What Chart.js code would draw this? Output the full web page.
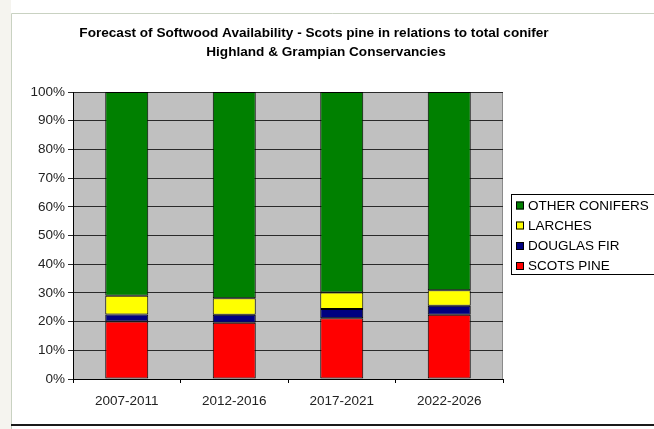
<!DOCTYPE html>
<html>
<head>
<meta charset="utf-8">
<script src="https://cdn.jsdelivr.net/npm/chart.js@4.4.1/dist/chart.umd.min.js"></script>
<style>
  html, body { margin: 0; padding: 0; background: #ffffff; }
  #wrap { position: relative; width: 654px; height: 429px; }
  canvas { display: block; }
</style>
</head>
<body>
<div id="wrap"><canvas id="c" width="654" height="429"></canvas></div>
<script>
const titleLines = [
  "Forecast of Softwood Availability - Scots pine in relations to total conifer",
  "Highland & Grampian Conservancies"
];
const categories = ["2007-2011", "2012-2016", "2017-2021", "2022-2026"];
const scotsPine     = [20.0, 19.6, 21.2, 22.4];
const douglasFir    = [2.5, 2.8, 3.2, 3.1];
const larches       = [6.5, 5.7, 5.7, 5.4];
const otherConifers = [71.0, 71.9, 69.9, 69.1];
const yTickValues = [0, 10, 20, 30, 40, 50, 60, 70, 80, 90, 100];

const FONT = '"Liberation Sans", Arial, sans-serif';

const framePlugin = {
  id: 'frame',
  beforeDraw(chart) {
    const ctx = chart.ctx;
    const ca = chart.chartArea;
    ctx.save();
    ctx.fillStyle = '#f5f4ef';
    ctx.fillRect(0, 0, 11, 429);
    ctx.fillStyle = '#ffffff';
    ctx.fillRect(11, 13, 643, 411);
    ctx.strokeStyle = '#c9d2c2';
    ctx.lineWidth = 1;
    ctx.beginPath();
    ctx.moveTo(11.5, 429);
    ctx.lineTo(11.5, 13.5);
    ctx.lineTo(654, 13.5);
    ctx.stroke();
    ctx.strokeStyle = '#1a1a1a';
    ctx.lineWidth = 2;
    ctx.beginPath();
    ctx.moveTo(11, 425);
    ctx.lineTo(654, 425);
    ctx.stroke();
    ctx.fillStyle = '#c0c0c0';
    ctx.fillRect(ca.left, ca.top, ca.right - ca.left, ca.bottom - ca.top);
    ctx.strokeStyle = '#8a8a8a';
    ctx.lineWidth = 1;
    ctx.strokeRect(ca.left + 0.5, ca.top + 0.5, ca.right - ca.left - 1, ca.bottom - ca.top);
    ctx.fillStyle = '#000000';
    ctx.textAlign = 'center';
    ctx.textBaseline = 'middle';
    ctx.font = 'bold 13.6px ' + FONT;
    ctx.fillText(titleLines[0], 314, 33);
    ctx.fillText(titleLines[1], 326, 52);
    ctx.restore();
  },
  afterDraw(chart) {
    const ctx = chart.ctx;
    ctx.save();
    const lx = 511, ly = 194, lw = 170, lh = 80;
    ctx.fillStyle = '#ffffff';
    ctx.fillRect(lx, ly, lw, lh);
    ctx.strokeStyle = '#000000';
    ctx.lineWidth = 1;
    ctx.strokeRect(lx + 0.5, ly + 0.5, lw, lh);
    const ds = chart.data.datasets.slice().reverse();
    const ys = [205.5, 225.5, 246, 266];
    ctx.font = '13.5px ' + FONT;
    ctx.textAlign = 'left';
    ctx.textBaseline = 'middle';
    ds.forEach((d, i) => {
      const y = ys[i];
      ctx.fillStyle = d.backgroundColor;
      ctx.fillRect(516, y - 4, 8, 8);
      ctx.strokeStyle = '#000000';
      ctx.strokeRect(516.5, y - 3.5, 7, 7);
      ctx.fillStyle = '#000000';
      ctx.fillText(d.label, 528, y + 0.5);
    });
    ctx.restore();
  }
};

const mk = (label, data, color) => ({
  label, data,
  backgroundColor: color,
  borderColor: '#000000',
  borderWidth: 1,
  borderSkipped: false,
  barPercentage: 0.4,
  categoryPercentage: 1.0
});

new Chart(document.getElementById('c'), {
  type: 'bar',
  data: {
    labels: categories,
    datasets: [
      mk('SCOTS PINE', scotsPine, '#ff0000'),
      mk('DOUGLAS FIR', douglasFir, '#000080'),
      mk('LARCHES', larches, '#ffff00'),
      mk('OTHER CONIFERS', otherConifers, '#008000')
    ]
  },
  options: {
    responsive: false,
    animation: false,
    devicePixelRatio: 1,
    layout: { padding: { top: 92, right: 151, left: 0, bottom: 0 } },
    plugins: { legend: { display: false }, title: { display: false }, tooltip: { enabled: false } },
    scales: {
      x: {
        stacked: true,
        offset: true,
        grid: { display: true, offset: true, drawOnChartArea: false, drawTicks: true, tickLength: 4, color: '#000000' },
        border: { display: true, color: '#000000', width: 1 },
        ticks: { color: '#222222', font: { family: FONT, size: 13.5 }, padding: 10 },
        afterFit(scale) { scale.height = 50; }
      },
      y: {
        stacked: true,
        min: 0, max: 100,
        afterBuildTicks(scale) { scale.ticks = yTickValues.map(v => ({ value: v })); },
        grid: { color: '#2a2a2a', lineWidth: 1, drawTicks: true, tickLength: 5 },
        border: { display: true, color: '#000000', width: 1 },
        ticks: { color: '#222222', font: { family: FONT, size: 13.5 }, padding: 3, callback: v => v + '%' },
        afterFit(scale) { scale.width = 73; }
      }
    }
  },
  plugins: [framePlugin]
});
</script>
</body>
</html>
